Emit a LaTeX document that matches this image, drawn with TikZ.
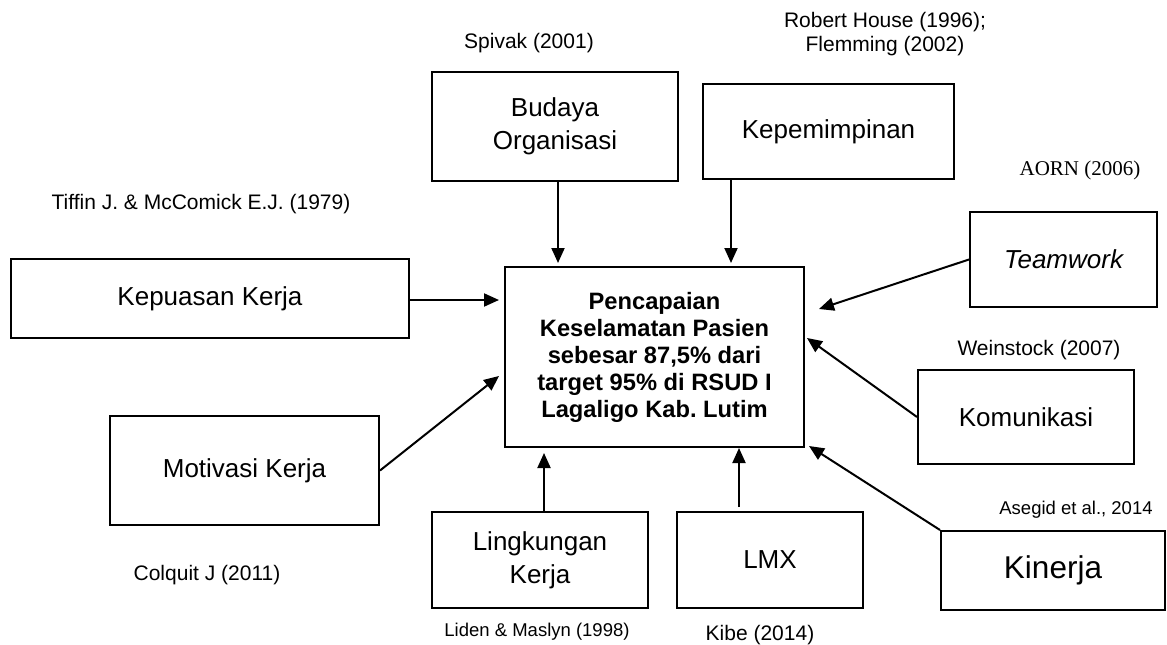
\documentclass[tikz,border=0pt]{standalone}
\usepackage{fontspec}
\setmainfont{Liberation Sans}
\newfontfamily\aornfont{Liberation Serif}
\usetikzlibrary{arrows.meta}
\frenchspacing
\tikzset{
  box/.style={draw, line width=2pt, inner sep=0pt, align=center, font=\fontsize{26}{33}\selectfont},
  cite/.style={inner sep=0pt, anchor=base, font=\fontsize{21}{24}\selectfont},
  citesmall/.style={inner sep=0pt, anchor=base, font=\fontsize{18.5}{22}\selectfont},
  arr/.style={line width=2pt, -{Triangle[length=15pt,width=13pt]}}
}
\begin{document}
\begin{tikzpicture}[x=1pt,y=-1pt]
\useasboundingbox (0,0) rectangle (1167,645);
% boxes
\node[box, minimum width=299pt, minimum height=180pt, font=\fontsize{23.7}{27}\selectfont\bfseries] (center) at (654.5,357)
  {Pencapaian\\Keselamatan Pasien\\sebesar 87,5\% dari\\target 95\% di RSUD I\\Lagaligo Kab. Lutim};
\node[box, minimum width=398pt, minimum height=79pt] (kepuasan) at (210,298.5) {Kepuasan Kerja};
\node[box, minimum width=269pt, minimum height=109pt] (motivasi) at (244.5,470.5) {Motivasi Kerja};
\node[box, minimum width=246pt, minimum height=109pt] (budaya) at (555,126.5) {Budaya\\Organisasi};
\node[box, minimum width=251pt, minimum height=95pt] (kepem) at (828.5,131.5) {Kepemimpinan};
\node[box, minimum width=187pt, minimum height=95pt] (team) at (1063.5,259.5) {\itshape Teamwork};
\node[box, minimum width=216pt, minimum height=94pt] (komu) at (1026,417) {Komunikasi};
\node[box, minimum width=224pt, minimum height=79pt, font=\fontsize{31.5}{36}\selectfont] (kinerja) at (1053,570.5) {Kinerja};
\node[box, minimum width=216pt, minimum height=96pt] (lingk) at (540,560) {Lingkungan\\Kerja};
\node[box, minimum width=186pt, minimum height=96pt] (lmx) at (770,560) {LMX};
% citations
\node[cite] (c1) at (529,48) {Spivak (2001)};
\node[inner sep=0pt, align=center, font=\fontsize{21}{24}\selectfont] (c2) at (885,34.5) {Robert House (1996);\\Flemming (2002)};
\node[cite] (c3) at (201,209) {Tiffin J. \& McComick E.J. (1979)};
\node[cite, font=\fontsize{21}{24}\selectfont\aornfont] (c4) at (1080,175) {AORN (2006)};
\node[cite] (c5) at (1039,355) {Weinstock (2007)};
\node[citesmall] (c6) at (1076,514) {Asegid et al., 2014};
\node[cite] (c7) at (207,580) {Colquit J (2011)};
\node[citesmall] (c8) at (537,636) {Liden \& Maslyn (1998)};
\node[cite] (c9) at (760,640) {Kibe (2014)};
% arrows
\draw[arr, shorten >=3pt] ([xshift=3pt]budaya.south) -- ([xshift=3pt]budaya.south |- center.north);
\draw[arr, shorten >=3pt] ([xshift=29pt]kepem.south west) -- ([xshift=29pt]kepem.south west |- center.north);
\draw[arr, shorten >=5pt] ([yshift=-1.5pt]kepuasan.east) -- ([yshift=-1.5pt]kepuasan.east -| center.west);
\draw[arr] (motivasi.east) -- ([xshift=-5pt,yshift=-19pt]center.west);
\draw[arr] (team.west) -- ([xshift=14pt,yshift=48pt]center.east);
\draw[arr] (komu.west) -- ([xshift=2pt,yshift=19pt]center.east);
\draw[arr] (kinerja.north west) -- ([xshift=4pt,yshift=2pt]center.south east);
\draw[arr, shorten >=5pt] ([xshift=4pt]lingk.north) -- ([xshift=4pt]lingk.north |- center.south);
\draw[arr] ([xshift=-31pt,yshift=4pt]lmx.north) -- ([xshift=-31pt]lmx.north |- center.south);
\end{tikzpicture}
\end{document}
